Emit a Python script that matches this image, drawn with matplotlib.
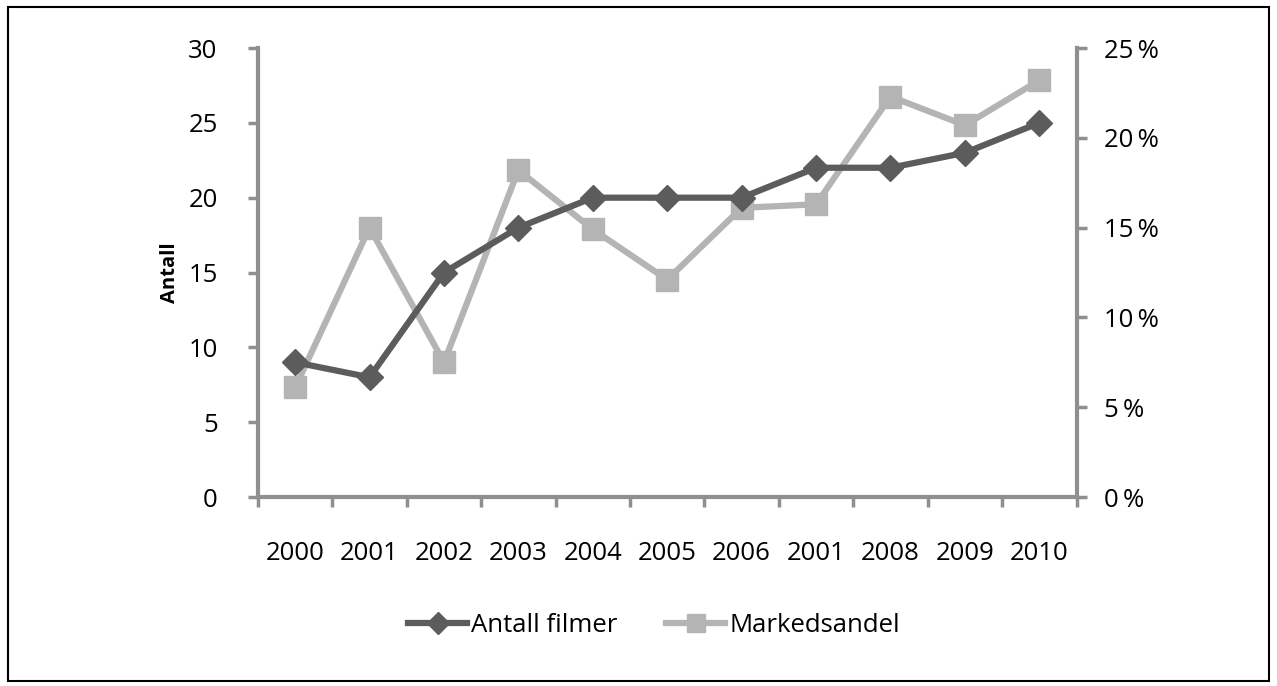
import matplotlib.pyplot as plt
import numpy as np
from matplotlib.patches import Rectangle
from matplotlib.ticker import FuncFormatter

years = ["2000", "2001", "2002", "2003", "2004", "2005", "2006", "2001", "2008", "2009", "2010"]
antall_filmer = [9, 8, 15, 18, 20, 20, 20, 22, 22, 23, 25]
markedsandel = [6.1, 15.0, 7.5, 18.2, 14.9, 12.1, 16.1, 16.3, 22.3, 20.7, 23.2]

plt.rcParams['font.family'] = ['Open Sans', 'DejaVu Sans']
axis_col = '#8f8f8f'
dark = '#5c5c5c'
light = '#b4b4b4'
fs = 18.5

fig = plt.figure(figsize=(12.77, 6.86), dpi=100)
ax = fig.add_axes([0.202, 0.2755, 0.641, 0.6545])
ax2 = ax.twinx()

x = np.arange(len(years))
l1, = ax.plot(x, antall_filmer, color=dark, lw=4.5, marker='D', ms=13,
              label='Antall filmer', zorder=3)
l2, = ax2.plot(x, markedsandel, color=light, lw=4.5, marker='s', ms=16,
               label='Markedsandel', zorder=3)
ax.set_zorder(ax2.get_zorder() + 1)
ax.patch.set_visible(False)

ax.set_xlim(-0.5, len(years) - 0.5)
ax.set_ylim(0, 30)
ax2.set_ylim(0, 25)
ax.set_yticks(range(0, 31, 5))
ax2.set_yticks(range(0, 26, 5))
ax2.yaxis.set_major_formatter(FuncFormatter(lambda v, p: f"{int(v)}\u2009%"))

ax.set_xticks(x)
ax.set_xticklabels(years)
ax.set_xticks(np.arange(-0.5, len(years), 1), minor=True)
ax.tick_params(axis='x', which='major', length=0, pad=32, labelsize=fs)
ax.tick_params(axis='x', which='minor', length=7, width=2.5, color=axis_col)
ax.tick_params(axis='y', length=7, width=2.5, color=axis_col, labelsize=fs, pad=22)
ax2.tick_params(axis='y', length=7, width=2.5, color=axis_col, labelsize=fs, pad=13)

for a in (ax, ax2):
    for s in a.spines.values():
        s.set_visible(False)
ax.spines['left'].set_visible(True)
ax.spines['bottom'].set_visible(True)
ax2.spines['right'].set_visible(True)
for s in (ax.spines['left'], ax.spines['bottom'], ax2.spines['right']):
    s.set_color(axis_col)
    s.set_linewidth(3)

ax.set_ylabel("Antall", fontsize=14.5, fontweight='bold', labelpad=6)

fig.legend(handles=[l1, l2], loc='center', bbox_to_anchor=(0.512, 0.088),
           ncol=2, frameon=False, fontsize=fs, handlelength=2.3,
           handletextpad=0.15, columnspacing=1.9, markerscale=0.85)

fig.patches.append(Rectangle((0.006, 0.008), 0.988, 0.982, transform=fig.transFigure,
                             fill=False, edgecolor='black', lw=1.5))

fig.savefig("out.png", dpi=100)
